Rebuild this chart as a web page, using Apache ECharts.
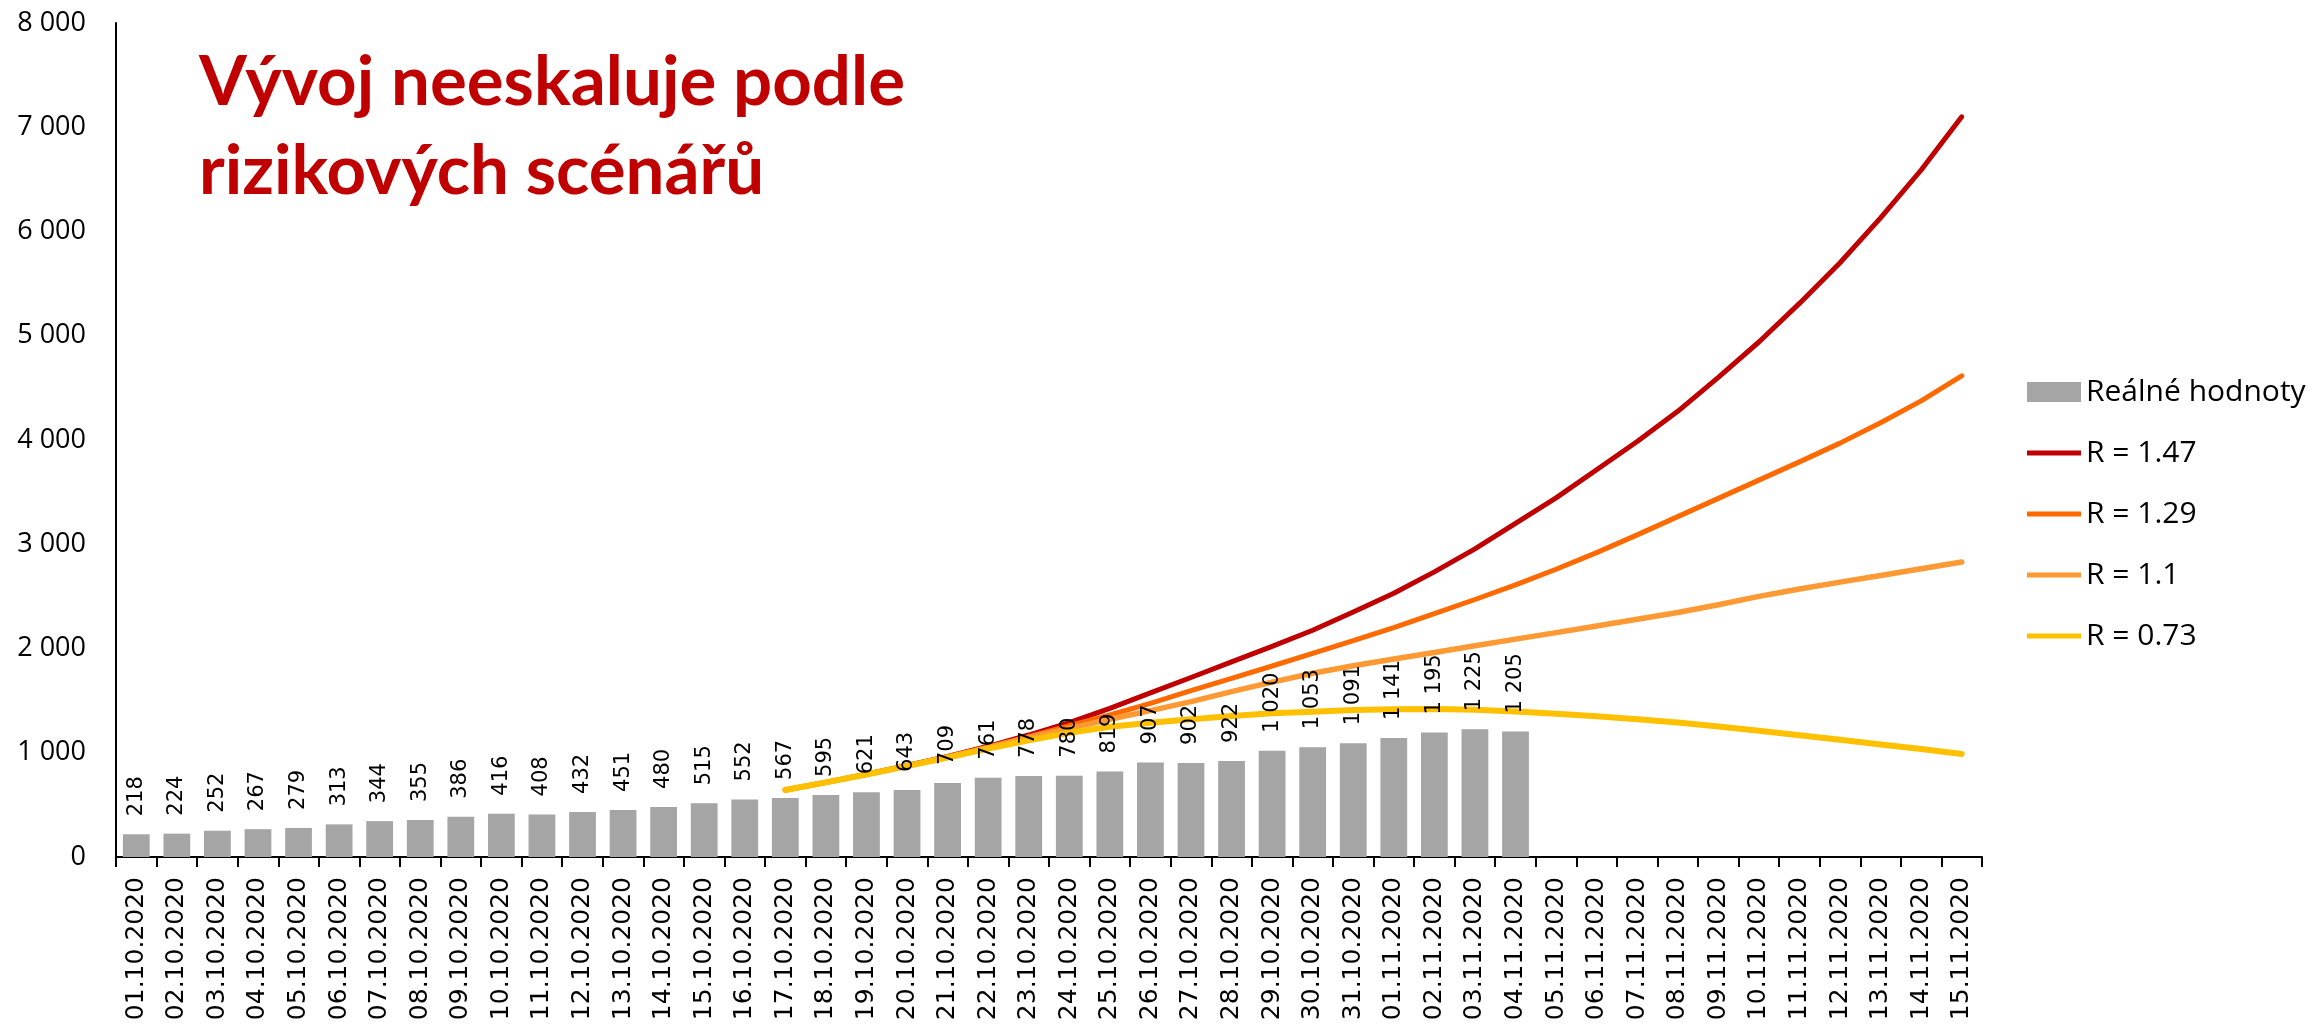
<!DOCTYPE html>
<html>
<head>
<meta charset="utf-8">
<script src="https://cdn.jsdelivr.net/npm/echarts@6/dist/echarts.min.js"></script>
<style>
    html, body { margin: 0; padding: 0; background: #fff; }
    #chart { width: 2323px; height: 1028px; }
</style>
</head>
<body>
<div id="chart"></div>
<script>
var dates = [
    '01.10.2020', '02.10.2020', '03.10.2020', '04.10.2020', '05.10.2020', '06.10.2020', '07.10.2020', '08.10.2020',
    '09.10.2020', '10.10.2020', '11.10.2020', '12.10.2020', '13.10.2020', '14.10.2020', '15.10.2020', '16.10.2020',
    '17.10.2020', '18.10.2020', '19.10.2020', '20.10.2020', '21.10.2020', '22.10.2020', '23.10.2020', '24.10.2020',
    '25.10.2020', '26.10.2020', '27.10.2020', '28.10.2020', '29.10.2020', '30.10.2020', '31.10.2020', '01.11.2020',
    '02.11.2020', '03.11.2020', '04.11.2020', '05.11.2020', '06.11.2020', '07.11.2020', '08.11.2020', '09.11.2020',
    '10.11.2020', '11.11.2020', '12.11.2020', '13.11.2020', '14.11.2020', '15.11.2020'
];
// reálné hodnoty 01.10. - 04.11.
var real = [218, 224, 252, 267, 279, 313, 344, 355, 386, 416, 408, 432, 451, 480, 515, 552, 567,
    595, 621, 643, 709, 761, 778, 780, 819, 907, 902, 922, 1020, 1053, 1091, 1141, 1195, 1225, 1205];
// scénáře od 17.10. do 15.11.
var scenarioStart = 16;
var r147 = [643, 716, 795, 878, 965, 1062, 1170, 1290, 1425, 1575, 1722, 1872, 2020, 2175, 2350,
    2530, 2735, 2955, 3200, 3445, 3715, 3985, 4275, 4600, 4940, 5310, 5700, 6130, 6590, 7100];
var r129 = [643, 716, 794, 876, 962, 1055, 1154, 1260, 1362, 1474, 1595, 1714, 1832, 1954, 2075,
    2200, 2335, 2470, 2610, 2760, 2920, 3090, 3265, 3440, 3615, 3790, 3970, 4165, 4375, 4615];
var r110 = [643, 716, 793, 874, 958, 1048, 1148, 1234, 1321, 1404, 1490, 1586, 1678, 1762, 1835,
    1900, 1962, 2027, 2090, 2152, 2215, 2280, 2345, 2420, 2500, 2570, 2637, 2700, 2765, 2830];
var r073 = [643, 716, 792, 872, 954, 1040, 1120, 1192, 1250, 1288, 1321, 1353, 1378, 1394, 1410,
    1418, 1420, 1412, 1395, 1375, 1350, 1322, 1290, 1252, 1210, 1168, 1125, 1080, 1035, 988];

function pad(arr) {
    var out = [];
    for (var i = 0; i < scenarioStart; i++) {
        out.push(null);
    }
    return out.concat(arr);
}
function fmt(v) {
    return String(v).replace(/\B(?=(\d{3})+(?!\d))/g, ' ');
}
function lineSeries(name, data, color, width) {
    return {
        name: name,
        type: 'line',
        data: pad(data),
        symbol: 'none',
        smooth: false,
        connectNulls: false,
        color: color,
        lineStyle: { color: color, width: width, cap: 'round', join: 'round' },
        z: 3
    };
}
// legenda: jen čára bez kolečka
var lineIcon = 'path://M0,0L54,0L54,5L0,5Z';

var myChart = echarts.init(document.getElementById('chart'));
var option = {
    animation: false,
    title: {
        text: 'Vývoj neeskaluje podle\nrizikových scénářů',
        left: 194,
        top: 33,
        textStyle: {
            fontFamily: 'Lato',
            fontWeight: 'bold',
            fontSize: 69,
            lineHeight: 89,
            color: '#C00000'
        }
    },
    legend: {
        orient: 'vertical',
        left: 2022,
        top: 372,
        itemWidth: 54,
        itemHeight: 20,
        itemGap: 31,
        symbolKeepAspect: true,
        textStyle: { fontFamily: 'Open Sans', fontSize: 30, lineHeight: 30, color: '#000' },
        data: [
            { name: 'Reálné hodnoty', icon: 'rect' },
            { name: 'R = 1.47', icon: lineIcon },
            { name: 'R = 1.29', icon: lineIcon },
            { name: 'R = 1.1', icon: lineIcon },
            { name: 'R = 0.73', icon: lineIcon }
        ]
    },
    grid: {
        left: 116,
        right: 341,
        top: 23,
        bottom: 171
    },
    xAxis: {
        type: 'category',
        data: dates,
        boundaryGap: true,
        axisLine: { lineStyle: { color: '#000', width: 2 } },
        axisTick: { show: true, length: 10, lineStyle: { color: '#000', width: 2 } },
        axisLabel: {
            rotate: 90,
            interval: 0,
            margin: 20,
            fontFamily: 'DejaVu Sans',
            fontSize: 25,
            color: '#000'
        }
    },
    yAxis: {
        type: 'value',
        min: 0,
        max: 8000,
        interval: 1000,
        splitLine: { show: false },
        axisLine: { show: true, lineStyle: { color: '#000', width: 2 } },
        axisTick: { show: false },
        axisLabel: {
            margin: 30,
            fontFamily: 'Open Sans',
            fontSize: 27,
            color: '#000',
            formatter: fmt
        }
    },
    series: [
        {
            name: 'Reálné hodnoty',
            type: 'bar',
            data: real,
            barCategoryGap: '34%',
            itemStyle: { color: '#A5A5A5' },
            label: {
                show: true,
                position: 'top',
                rotate: 90,
                align: 'left',
                verticalAlign: 'middle',
                distance: 18,
                fontFamily: 'DejaVu Sans',
                fontSize: 21,
                color: '#000',
                formatter: function (p) { return fmt(p.value); }
            },
            z: 4
        },
        lineSeries('R = 1.47', r147, '#C00000', 5),
        lineSeries('R = 1.29', r129, '#FF6A00', 5),
        lineSeries('R = 1.1', r110, '#FF9933', 5.5),
        lineSeries('R = 0.73', r073, '#FFC000', 6)
    ]
};
myChart.setOption(option);
</script>
</body>
</html>
